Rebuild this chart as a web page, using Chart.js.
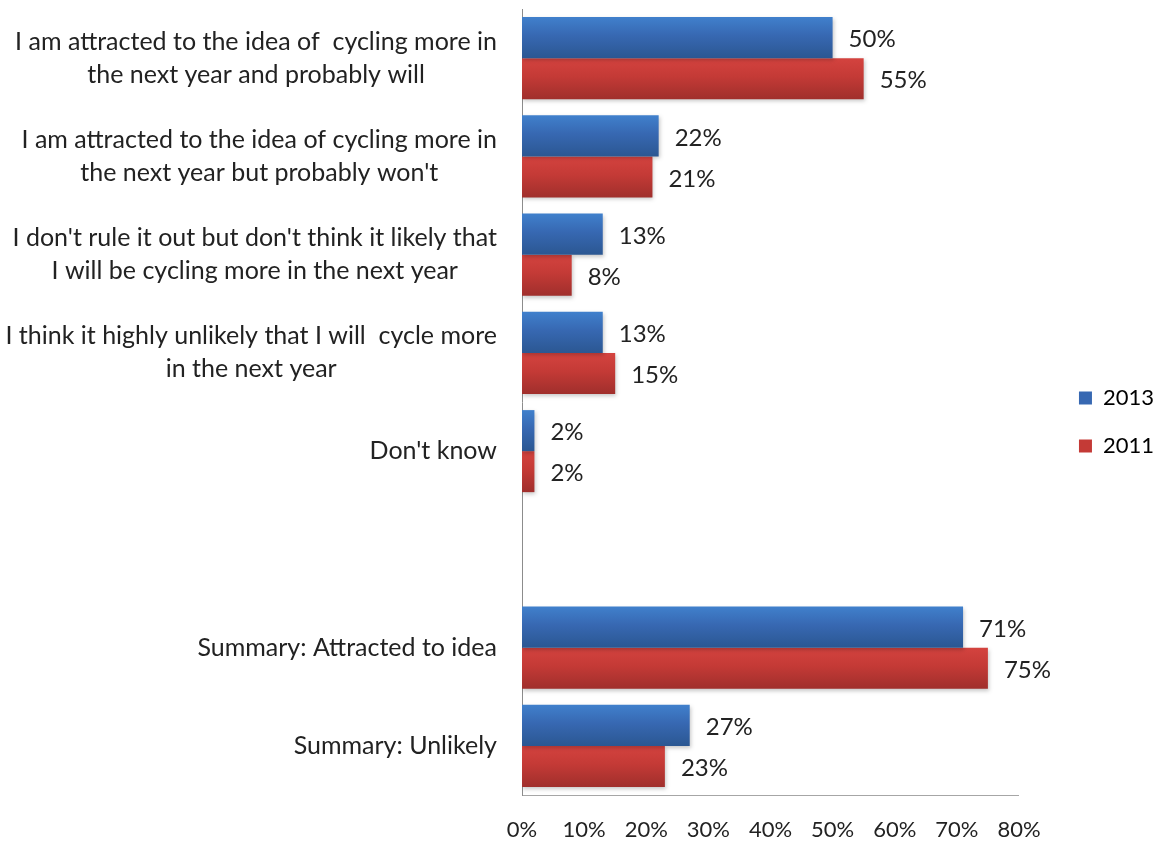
<!DOCTYPE html>
<html>
<head>
<meta charset="utf-8">
<script src="https://cdn.jsdelivr.net/npm/chart.js@4.4.1/dist/chart.umd.min.js"></script>
<style>
  html, body { margin: 0; padding: 0; background: #fff; }
  #wrap { width: 1164px; height: 844px; position: relative; }
</style>
</head>
<body>
<div id="wrap"><canvas id="cyclingChart"></canvas></div>
<script>
// Câu trả lời (mỗi dòng là một phần tử), hàng trống để tách phần tổng hợp
const answers = [
  ['I am attracted to the idea of  cycling more in', 'the next year and probably will'],
  ['I am attracted to the idea of cycling more in', "the next year but probably won't"],
  ["I don't rule it out but don't think it likely that", 'I will be cycling more in the next year'],
  ['I think it highly unlikely that I will  cycle more', 'in the next year'],
  ["Don't know"],
  [''],
  ['Summary: Attracted to idea'],
  ['Summary: Unlikely']
];

const years = ['2013', '2011'];
const values2013 = [50, 22, 13, 13, 2, null, 71, 27];
const values2011 = [55, 21, 8, 15, 2, null, 75, 23];
const xTicks = [0, 10, 20, 30, 40, 50, 60, 70, 80];

const FONT = 'Lato, "Noto Sans", sans-serif';
const TEXT_COLOR = '#222222';
const CAT_PCT = 0.835;

// Tô màu chuyển sắc cho từng thanh (sáng ở trên, tối ở dưới)
function barShade(light, mid, dark, side) {
  return (ctx) => {
    const chart = ctx.chart;
    const ys = chart.scales.y;
    if (ctx.type !== 'data' || !ys || !ys.height) return mid;
    const centre = ys.getPixelForValue(ctx.dataIndex);
    const half = ys.height / answers.length * CAT_PCT / 2;
    const top = side < 0 ? centre - half : centre;
    const g = chart.ctx.createLinearGradient(0, top, 0, top + half);
    g.addColorStop(0, light);
    g.addColorStop(0.45, mid);
    g.addColorStop(1, dark);
    return g;
  };
}

// Nhãn trục dọc: khối chữ canh phải, các dòng canh giữa trong khối
const answerLabels = {
  id: 'answerLabels',
  afterDraw(chart) {
    const { ctx } = chart;
    const ys = chart.scales.y;
    const right = ys.right - 25;
    ctx.save();
    ctx.font = '25px ' + FONT;
    ctx.fillStyle = TEXT_COLOR;
    ctx.textAlign = 'center';
    ctx.textBaseline = 'middle';
    answers.forEach((lines, i) => {
      const w = Math.max(...lines.map(l => ctx.measureText(l).width));
      const cx = right - w / 2;
      const cy = ys.getPixelForValue(i);
      lines.forEach((line, j) => {
        ctx.fillText(line, cx, cy + (j - (lines.length - 1) / 2) * 33);
      });
    });
    ctx.restore();
  }
};

// Giá trị phần trăm ở cuối mỗi thanh
const valueLabels = {
  id: 'valueLabels',
  afterDatasetsDraw(chart) {
    const { ctx } = chart;
    ctx.save();
    ctx.font = '24px ' + FONT;
    ctx.fillStyle = TEXT_COLOR;
    ctx.textAlign = 'left';
    ctx.textBaseline = 'middle';
    chart.data.datasets.forEach((ds, di) => {
      chart.getDatasetMeta(di).data.forEach((bar, i) => {
        if (ds.data[i] == null) return;
        ctx.fillText(ds.data[i] + '%', bar.x + 16, bar.y + 2);
      });
    });
    ctx.restore();
  }
};

// Bóng mờ nhẹ dưới các thanh
const barShadow = {
  id: 'barShadow',
  beforeDatasetDraw(chart) {
    const { ctx } = chart;
    ctx.save();
    ctx.shadowColor = 'rgba(0,0,0,0.22)';
    ctx.shadowBlur = 4;
    ctx.shadowOffsetX = 1;
    ctx.shadowOffsetY = 2;
  },
  afterDatasetDraw(chart) {
    chart.ctx.restore();
  }
};

// Trục rỗng chỉ để giữ khoảng trống (không vẽ gì)
const spacer = (position, size) => ({
  type: 'linear',
  position,
  display: true,
  grid: { display: false, drawTicks: false },
  ticks: { display: false },
  border: { display: false },
  afterFit(scale) {
    if (position === 'top') scale.height = size;
    else scale.width = size;
  }
});

const ctx = document.getElementById('cyclingChart').getContext('2d');

const cyclingChart = new Chart(ctx, {
  type: 'bar',
  data: {
    labels: answers,
    datasets: [{
      label: years[0],
      data: values2013,
      xAxisID: 'x',
      yAxisID: 'y',
      backgroundColor: barShade('#4080cc', '#3768b2', '#2b5792', -1),
      categoryPercentage: CAT_PCT,
      barPercentage: 1
    }, {
      label: years[1],
      data: values2011,
      xAxisID: 'x',
      yAxisID: 'y',
      backgroundColor: barShade('#d4433f', '#c43a36', '#a02f2c', 1),
      categoryPercentage: CAT_PCT,
      barPercentage: 1
    }]
  },
  options: {
    indexAxis: 'y',
    animation: false,
    responsive: true,
    maintainAspectRatio: false,
    layout: { padding: 0 },
    plugins: {
      legend: {
        position: 'right',
        align: 'center',
        labels: {
          boxWidth: 13,
          boxHeight: 13,
          padding: 26,
          color: TEXT_COLOR,
          font: { family: FONT, size: 22 },
          generateLabels(chart) {
            return chart.data.datasets.map((ds, i) => ({
              text: ds.label,
              fillStyle: i === 0 ? '#3768b2' : '#c43a36',
              strokeStyle: 'transparent',
              lineWidth: 0,
              datasetIndex: i
            }));
          }
        }
      },
      tooltip: { enabled: false }
    },
    scales: {
      x: {
        min: 0,
        max: 80,
        afterBuildTicks(scale) {
          scale.ticks = xTicks.map(v => ({ value: v }));
        },
        ticks: {
          color: TEXT_COLOR,
          padding: 22,
          font: { family: FONT, size: 22 },
          callback: v => v + '%'
        },
        grid: { display: false, drawTicks: false },
        border: { color: '#a6a6a6', width: 1 },
        afterFit(scale) { scale.height = 49; }
      },
      y: {
        grid: { display: false, drawTicks: false },
        ticks: { display: false },
        border: { color: '#8c8c8c', width: 1 },
        afterFit(scale) { scale.width = 522; }
      },
      gapRight: spacer('right', 34),
      gapTop: spacer('top', 9)
    }
  },
  plugins: [barShadow, answerLabels, valueLabels]
});
</script>
</body>
</html>
